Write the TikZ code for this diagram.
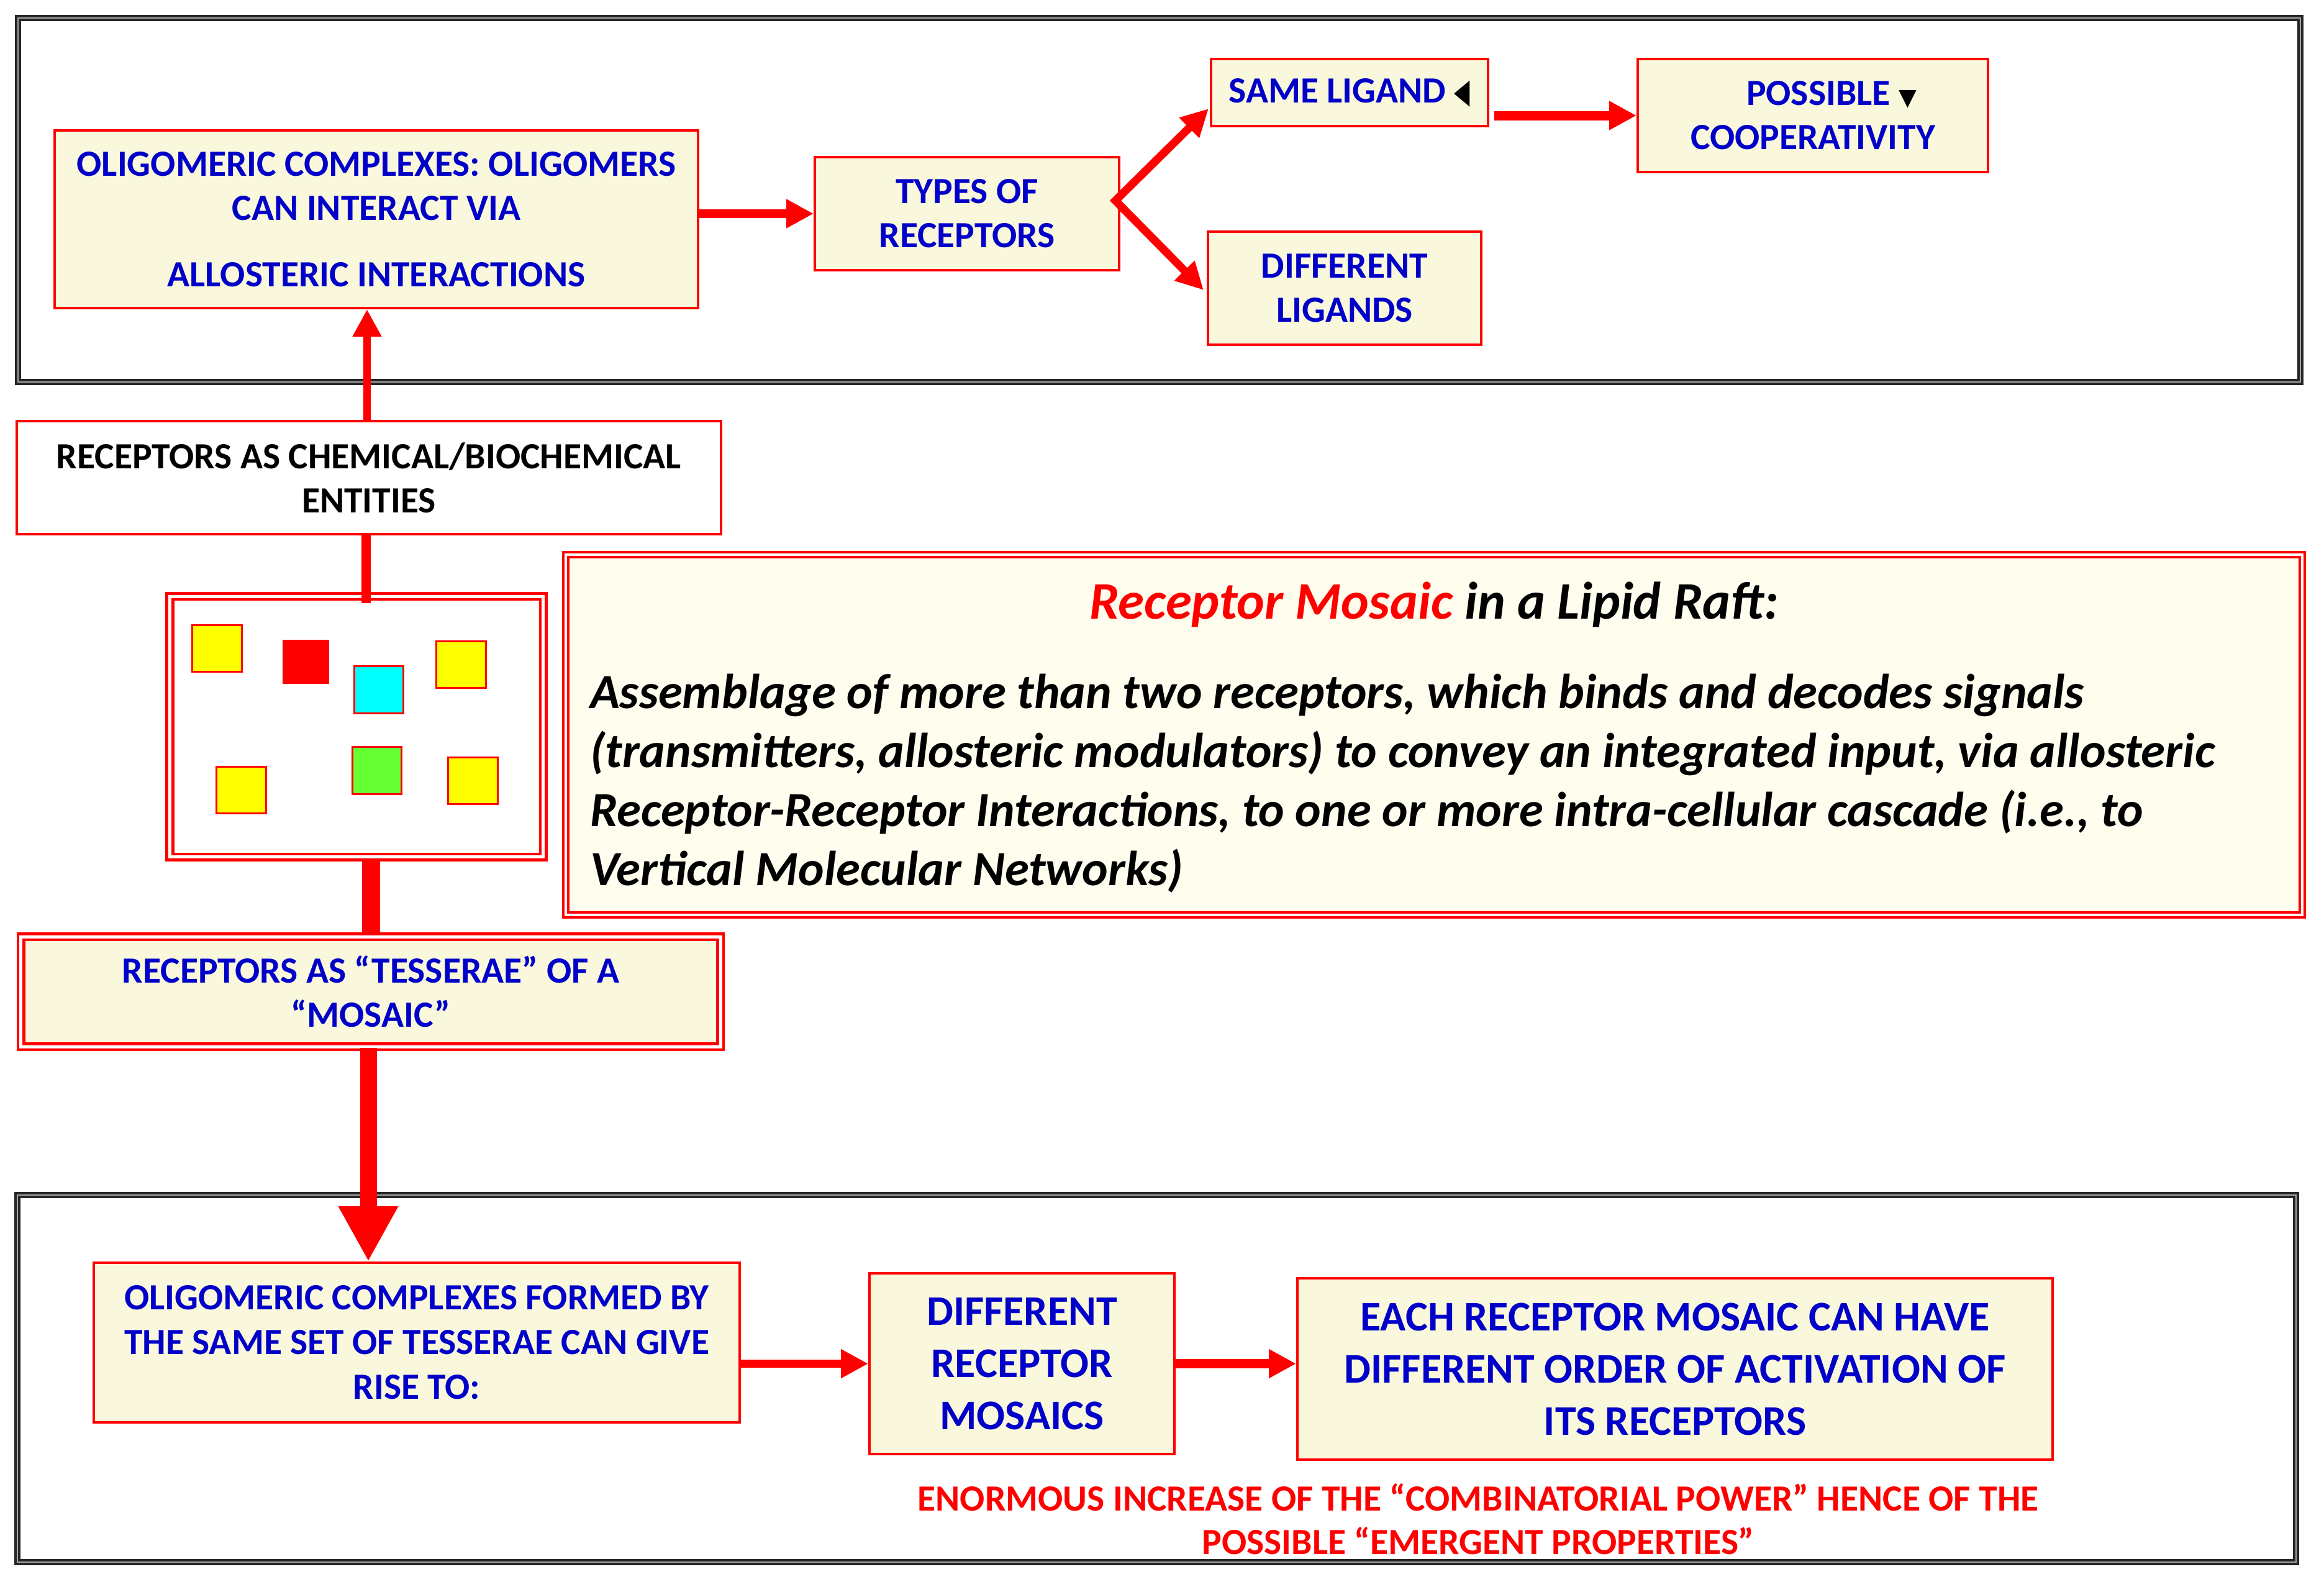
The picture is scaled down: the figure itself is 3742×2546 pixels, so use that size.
\documentclass[tikz,border=0pt]{standalone}
\usepackage{fontspec}
\setmainfont{Carlito}
\newfontfamily\symfont{DejaVu Sans}
\usetikzlibrary{arrows.meta,calc}
\definecolor{cream}{RGB}{250,248,220}
\definecolor{creamlt}{RGB}{254,253,238}
\definecolor{tblue}{RGB}{0,0,200}
\definecolor{rred}{RGB}{255,0,0}
\definecolor{tyellow}{RGB}{255,255,0}
\definecolor{tcyan}{RGB}{0,255,255}
\definecolor{tgreen}{RGB}{102,255,51}
\tikzset{
  rbox/.style={draw=rred, line width=0.8pt, fill=cream, text=tblue, align=center, inner sep=0pt},
  dbox/.style={draw=rred, line width=0.9pt, double=white, double distance=1pt, align=center, inner sep=0pt},
  outframe/.style={draw=black!85, line width=0.7pt, double=black!35, double distance=0.5pt},
  fsmall/.style={font=\fontsize{11.9}{14.2}\selectfont\bfseries},
  fmid/.style={font=\fontsize{11.9}{14.4}\selectfont\bfseries},
  fbig/.style={font=\fontsize{13.6}{16.8}\selectfont\bfseries},
  arr/.style={draw=rred, line width=2.8pt, -{Triangle[length=8.8pt,width=8.8pt]}},
  bigarr/.style={draw=rred, line width=5.4pt, -{Triangle[length=17.8pt,width=18pt]}},
  tessera/.style={draw=rred, line width=0.6pt}
}
\begin{document}
\begin{tikzpicture}[x=0.2pt,y=-0.2pt]
\useasboundingbox (0,0) rectangle (3742,2546);
% frames
\draw[outframe] (29,29) rectangle (3704,615);
\draw[outframe] (28,1924) rectangle (3697,2515);

% top section
\node[rbox, fsmall, minimum width=207.2pt, minimum height=57.2pt] (olig) at (606,353)
  {OLIGOMERIC COMPLEXES: OLIGOMERS\\ CAN INTERACT VIA\\[7.2pt] ALLOSTERIC INTERACTIONS};
\node[rbox, fsmall, minimum width=98pt, minimum height=36.4pt] (types) at (1557,344)
  {TYPES OF\\ RECEPTORS};
\node[rbox, fsmall, minimum width=89.2pt, minimum height=21.6pt] (same) at (2173,149)
  {SAME LIGAND {\color{black}\symfont\fontsize{11}{11}\selectfont\scalebox{0.6}[1]{◀}}};
\node[rbox, fsmall, minimum width=112.8pt, minimum height=36.4pt] (poss) at (2919,186)
  {\hspace*{12pt}POSSIBLE {\color{black}\symfont\fontsize{7.5}{7.5}\selectfont ▼}\\ COOPERATIVITY};
\node[rbox, fsmall, minimum width=88pt, minimum height=36.4pt] (diff) at (2165,464)
  {DIFFERENT\\ LIGANDS};

% middle section
\node[rbox, fsmall, fill=white, text=black, minimum width=226.8pt, minimum height=36.4pt] (chem) at (594,769)
  {RECEPTORS AS CHEMICAL/BIOCHEMICAL\\ ENTITIES};
\node[dbox, fill=white, minimum width=120.2pt, minimum height=83.9pt] (sq) at (574,1170)
  {};
\node[dbox, fill=cream, text=tblue, fsmall, minimum width=225.2pt, minimum height=35.4pt] (tess) at (597,1596.5)
  {RECEPTORS AS “TESSERAE” OF A\\ “MOSAIC”};
\node[draw=rred, line width=0.8pt, double=white, double distance=0.9pt, fill=creamlt,
      minimum width=559.2pt, minimum height=116pt, inner sep=0pt] (mosaic) at (2309,1183) {};
\node[anchor=base, inner sep=0pt, font=\fontsize{17}{20}\selectfont\bfseries\itshape] (mtitle) at (2309,996)
  {{\color{rred}Receptor Mosaic} in a Lipid Raft:};
\node[anchor=base west, inner sep=0pt, align=left, font=\fontsize{15.8}{19}\selectfont\bfseries\itshape] (mbody) at (949,1425)
  {Assemblage of more than two receptors, which binds and decodes signals\\
   (transmitters, allosteric modulators) to convey an integrated input, via allosteric\\
   Receptor-Receptor Interactions, to one or more intra-cellular cascade (i.e., to\\
   Vertical Molecular Networks)};

% tesserae squares
\draw[tessera, fill=tyellow] (309,1006) rectangle (389,1081);
\draw[draw=rred, fill=rred] (456,1031) rectangle (529,1100);
\draw[tessera, fill=tcyan] (570,1072) rectangle (649,1148);
\draw[tessera, fill=tyellow] (702,1032) rectangle (782,1107);
\draw[tessera, fill=tyellow] (348,1234) rectangle (428,1309);
\draw[tessera, fill=tgreen] (567,1202) rectangle (646,1278);
\draw[tessera, fill=tyellow] (721,1219) rectangle (801,1294);

% bottom section
\node[rbox, fmid, minimum width=208pt, minimum height=51.4pt] (bolig) at (671,2161.5)
  {OLIGOMERIC COMPLEXES FORMED BY\\ THE SAME SET OF TESSERAE CAN GIVE\\ RISE TO:};
\node[rbox, fbig, minimum width=98.2pt, minimum height=58.2pt] (diffmos) at (1645.5,2195.5)
  {DIFFERENT\\ RECEPTOR\\ MOSAICS};
\node[rbox, fbig, minimum width=243.2pt, minimum height=58.4pt] (each) at (2697,2204)
  {EACH RECEPTOR MOSAIC CAN HAVE\\ DIFFERENT ORDER OF ACTIVATION OF\\ ITS RECEPTORS};
\node[anchor=base, inner sep=0pt, align=center, text=rred, font=\fontsize{11.9}{14}\selectfont\bfseries] (note) at (2380,2502)
  {ENORMOUS INCREASE OF THE “COMBINATORIAL POWER” HENCE OF THE\\ POSSIBLE “EMERGENT PROPERTIES”};

% connectors
\draw[arr] (olig.east |- types.west) -- (types.west);
\coordinate (br) at ($(types.east)+(-8,-21)$);
\draw[draw=rred, line width=2.6pt, line join=miter,
      {Triangle[length=8.8pt,width=8.6pt]}-{Triangle[length=8.8pt,width=8.6pt]}]
  ($(same.south west)+(-2,-30)$) -- (br) -- ($(diff.west)+(-5,3)$);
\draw[arr, line width=3pt] ($(same.east |- poss.west)+(8,0)$) -- (poss.west);
\draw[arr, line width=2.4pt] ([xshift=-0.6pt]chem.north) -- ([xshift=-0.6pt]chem.north |- olig.south);
\draw[rred, line width=3pt] ([xshift=-1pt]chem.south) -- ($([xshift=-1pt]chem.south |- sq.north)+(0,13)$);
\draw[rred, line width=5.8pt] (sq.south -| tess.north) -- (tess.north);
\draw[bigarr] ([xshift=-0.8pt]tess.south) -- ([xshift=-0.8pt]tess.south |- bolig.north);
\draw[arr, line width=2.6pt] (bolig.east |- diffmos.west) -- (diffmos.west);
\draw[arr, line width=3pt] (diffmos.east) -- (diffmos.east -| each.west);
\end{tikzpicture}
\end{document}
